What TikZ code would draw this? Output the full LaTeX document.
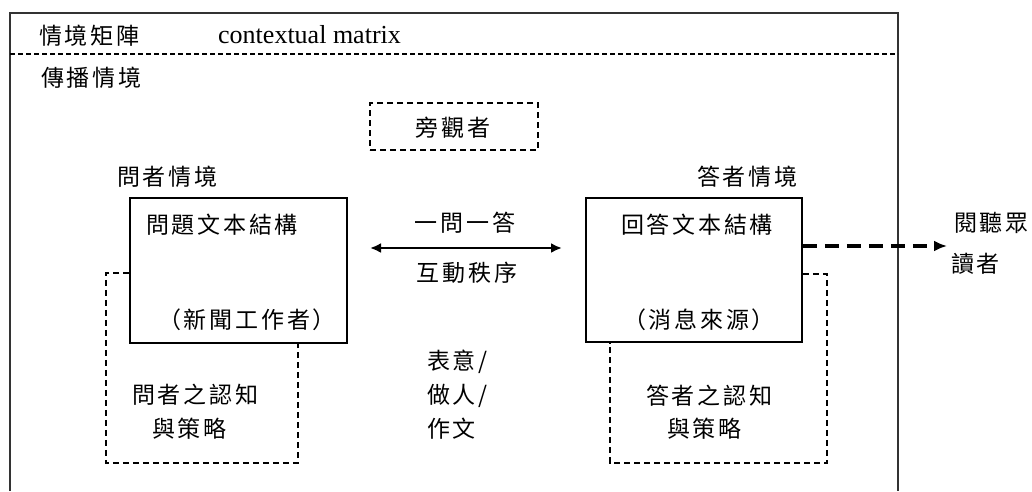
\documentclass[tikz,border=0pt]{standalone}
\usepackage{fontspec}
\setmainfont{Liberation Serif}
\newfontfamily\cjk{Noto Sans CJK TC}[LetterSpace=12]
\usetikzlibrary{arrows.meta}
\begin{document}
\begin{tikzpicture}[x=1pt,y=-1pt,
  txt/.style={font=\cjk\fontsize{23}{26}\selectfont, inner sep=0pt, anchor=west, text=black},
  ctxt/.style={font=\cjk\fontsize{23}{26}\selectfont, inner sep=0pt, text=black},
  solidbox/.style={draw=black, line width=1.9pt, rectangle, inner sep=0pt},
  thindash/.style={draw=black, line width=1.2pt, dash pattern=on 6pt off 4pt},
  outer/.style={draw=black!80, line width=2pt}
]
\useasboundingbox (0,0) rectangle (1032,491);
% outer frame
\draw[outer] (10,491) -- (10,13) -- (898,13) -- (898,491);
\draw[draw=black, line width=1.1pt, dash pattern=on 5pt off 3pt] (10,54) -- (898,54);

\node[txt] (t1) at (39,36) {情境矩陣};
\node[font=\fontsize{26}{30}\selectfont, inner sep=0pt, anchor=west] (t2) at (218,35) {contextual matrix};
\node[txt] (t3) at (41,78) {傳播情境};

% bystander
\node[thindash, rectangle, minimum width=168pt, minimum height=47pt, inner sep=0pt] (by) at (454,126.5) {};
\node[ctxt] (byt) at (453,128) {旁觀者};

% situation labels
\node[txt] (qs) at (117,177) {問者情境};
\node[txt] (as) at (697,177) {答者情境};

% main boxes
\node[solidbox, minimum width=217pt, minimum height=145pt] (qbox) at (238.5,270.5) {};
\node[solidbox, minimum width=216pt, minimum height=144pt] (abox) at (694,270) {};

\node[txt] (qt1) at (146,225) {問題文本結構};
\node[ctxt] (qt2) at (247,320) {（新聞工作者）};
\node[txt] (at1) at (621,225) {回答文本結構};
\node[ctxt] (at2) at (699,320) {（消息來源）};

% interaction arrow
\coordinate (aL) at (370,248);
\coordinate (aR) at (562,248);
\draw[line width=2.6pt, {Latex[length=11pt,width=10pt]}-{Latex[length=11pt,width=10pt]}] (aL) -- (aR);
\node[ctxt] (m1) at (465,223) {一問一答};
\node[ctxt] (m2) at (467,273) {互動秩序};

% audience
\coordinate (audL) at (947,246);
\draw[line width=3.2pt, dash pattern=on 14pt off 8pt, -{Latex[length=13pt,width=11pt]}] (abox.east |- audL) -- (audL);
\node[txt] (au1) at (954,223) {閱聽眾};
\node[txt] (au2) at (951,264) {讀者};

% cognition dashed frames
\draw[thindash] (qbox.west |- 0,273) -- (106,273) -- (106,463) -- (298,463) -- (298,0 |- qbox.south);
\draw[thindash] (abox.east |- 0,274) -- (827,274) -- (827,463) -- (610,463) -- (610,0 |- abox.south);

\node[txt] (qc1) at (132,395) {問者之認知};
\node[txt] (qc2) at (152,429) {與策略};
\node[txt] (ac1) at (646,396) {答者之認知};
\node[txt] (ac2) at (667,429) {與策略};

\node[txt] (c1) at (427,362) {表意/};
\node[txt] (c2) at (427,396) {做人/};
\node[txt] (c3) at (427,429) {作文};
\end{tikzpicture}
\end{document}
